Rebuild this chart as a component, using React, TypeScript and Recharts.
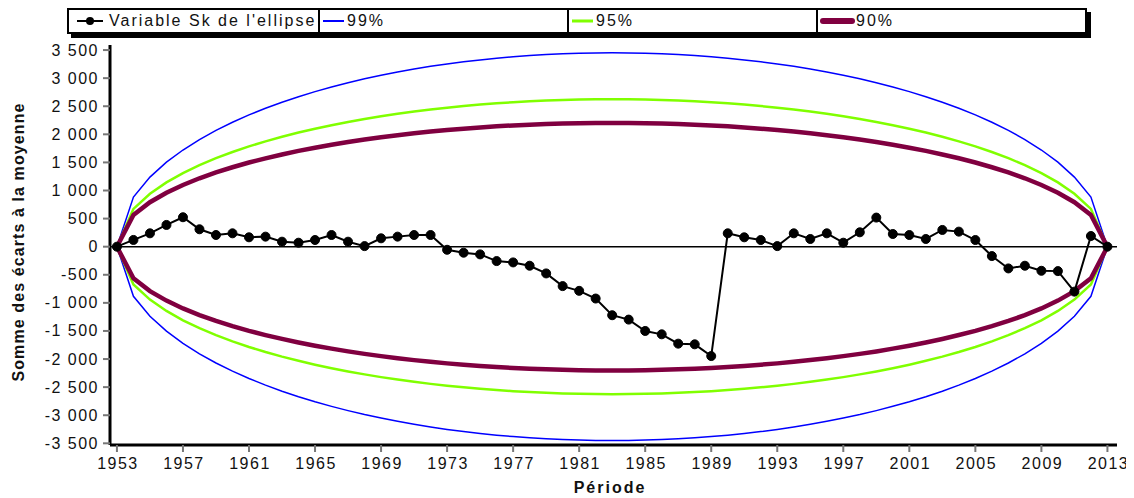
import React from "react";
import {
  LineChart,
  Line,
  XAxis,
  YAxis,
  ReferenceLine,
} from "recharts";

const years = [
  1953, 1954, 1955, 1956, 1957, 1958, 1959, 1960, 1961, 1962, 1963, 1964, 1965,
  1966, 1967, 1968, 1969, 1970, 1971, 1972, 1973, 1974, 1975, 1976, 1977, 1978,
  1979, 1980, 1981, 1982, 1983, 1984, 1985, 1986, 1987, 1988, 1989, 1990, 1991,
  1992, 1993, 1994, 1995, 1996, 1997, 1998, 1999, 2000, 2001, 2002, 2003, 2004,
  2005, 2006, 2007, 2008, 2009, 2010, 2011, 2012, 2013,
];

// Variable Sk de l'ellipse
const sk = [
  0, 120, 238, 387, 524, 310, 208, 238, 167, 179, 89, 71, 119, 208, 89, 10, 149,
  179, 208, 208, -55, -107, -137, -256, -280, -339, -476, -702, -786, -923,
  -1220, -1298, -1500, -1560, -1726, -1738, -1947, 238, 167, 119, 10, 238, 137,
  238, 71, 256, 518, 226, 208, 137, 298, 268, 119, -167, -387, -339, -429, -435,
  -800, 190, 0,
];

const up99 = [
  0, 883, 1239, 1504, 1721, 1907, 2070, 2215, 2346, 2464, 2572, 2670, 2760, 2842,
  2918, 2988, 3051, 3109, 3162, 3210, 3253, 3291, 3325, 3355, 3380, 3402, 3419,
  3433, 3442, 3448, 3450, 3448, 3442, 3433, 3419, 3402, 3380, 3355, 3325, 3291,
  3253, 3210, 3162, 3109, 3051, 2988, 2918, 2842, 2760, 2670, 2572, 2464, 2346,
  2215, 2070, 1907, 1721, 1504, 1239, 883, 0,
];
const low99 = [
  0, -883, -1239, -1504, -1721, -1907, -2070, -2215, -2346, -2464, -2572, -2670,
  -2760, -2842, -2918, -2988, -3051, -3109, -3162, -3210, -3253, -3291, -3325,
  -3355, -3380, -3402, -3419, -3433, -3442, -3448, -3450, -3448, -3442, -3433,
  -3419, -3402, -3380, -3355, -3325, -3291, -3253, -3210, -3162, -3109, -3051,
  -2988, -2918, -2842, -2760, -2670, -2572, -2464, -2346, -2215, -2070, -1907,
  -1721, -1504, -1239, -883, 0,
];

const up95 = [
  0, 672, 942, 1144, 1310, 1451, 1575, 1685, 1785, 1875, 1957, 2031, 2100, 2163,
  2220, 2273, 2322, 2366, 2406, 2442, 2475, 2504, 2530, 2553, 2572, 2588, 2602,
  2612, 2619, 2623, 2625, 2623, 2619, 2612, 2602, 2588, 2572, 2553, 2530, 2504,
  2475, 2442, 2406, 2366, 2322, 2273, 2220, 2163, 2100, 2031, 1957, 1875, 1785,
  1685, 1575, 1451, 1310, 1144, 942, 672, 0,
];
const low95 = [
  0, -672, -942, -1144, -1310, -1451, -1575, -1685, -1785, -1875, -1957, -2031,
  -2100, -2163, -2220, -2273, -2322, -2366, -2406, -2442, -2475, -2504, -2530,
  -2553, -2572, -2588, -2602, -2612, -2619, -2623, -2625, -2623, -2619, -2612,
  -2602, -2588, -2572, -2553, -2530, -2504, -2475, -2442, -2406, -2366, -2322,
  -2273, -2220, -2163, -2100, -2031, -1957, -1875, -1785, -1685, -1575, -1451,
  -1310, -1144, -942, -672, 0,
];

const up90 = [
  0, 564, 791, 960, 1099, 1218, 1322, 1414, 1498, 1573, 1642, 1705, 1762, 1815,
  1864, 1908, 1948, 1985, 2019, 2050, 2077, 2101, 2123, 2142, 2159, 2172, 2183,
  2192, 2198, 2202, 2203, 2202, 2198, 2192, 2183, 2172, 2159, 2142, 2123, 2101,
  2077, 2050, 2019, 1985, 1948, 1908, 1864, 1815, 1762, 1705, 1642, 1573, 1498,
  1414, 1322, 1218, 1099, 960, 791, 564, 0,
];
const low90 = [
  0, -564, -791, -960, -1099, -1218, -1322, -1414, -1498, -1573, -1642, -1705,
  -1762, -1815, -1864, -1908, -1948, -1985, -2019, -2050, -2077, -2101, -2123,
  -2142, -2159, -2172, -2183, -2192, -2198, -2202, -2203, -2202, -2198, -2192,
  -2183, -2172, -2159, -2142, -2123, -2101, -2077, -2050, -2019, -1985, -1948,
  -1908, -1864, -1815, -1762, -1705, -1642, -1573, -1498, -1414, -1322, -1218,
  -1099, -960, -791, -564, 0,
];

const xTicks = [1953, 1957, 1961, 1965, 1969, 1973, 1977, 1981, 1985, 1989, 1993, 1997, 2001, 2005, 2009, 2013];
const yTicks = [-3500, -3000, -2500, -2000, -1500, -1000, -500, 0, 500, 1000, 1500, 2000, 2500, 3000, 3500];

const data = years.map((year, i) => ({
  year,
  sk: sk[i],
  up99: up99[i],
  low99: low99[i],
  up95: up95[i],
  low95: low95[i],
  up90: up90[i],
  low90: low90[i],
}));

const FONT = "'Liberation Sans', Arial, sans-serif";

const fmt = (v: number) => {
  const a = Math.abs(v);
  const s = a >= 1000 ? `${Math.floor(a / 1000)} ${String(a % 1000).padStart(3, "0")}` : `${a}`;
  return v < 0 ? `-${s}` : s;
};

const XTick = ({ x, y, payload }: any) => (
  <text x={x + 1} y={y + 15} textAnchor="middle" fontSize={16} fill="#111" letterSpacing={1.5} fontFamily={FONT}>
    {payload.value}
  </text>
);

const YTick = ({ x, y, payload }: any) => (
  <text x={x} y={y + 5.5} textAnchor="end" fontSize={16} fill="#111" letterSpacing={1.5} fontFamily={FONT}>
    {fmt(payload.value)}
  </text>
);

const cell = (w: number, last = false): React.CSSProperties => ({
  width: w,
  height: "100%",
  display: "flex",
  alignItems: "center",
  borderRight: last ? "none" : "2px solid #000",
  boxSizing: "border-box",
});

const legendText: React.CSSProperties = { fontSize: 16, letterSpacing: 2, color: "#111", whiteSpace: "nowrap" };

const LegendBox = () => (
  <div
    style={{
      position: "absolute",
      left: 59,
      top: 0,
      width: 1020,
      height: 26,
      border: "2px solid #000",
      boxShadow: "4px 4px 0 #000",
      background: "#fff",
      boxSizing: "border-box",
      display: "flex",
      fontFamily: FONT,
      overflow: "hidden",
    }}
  >
    <div style={cell(251)}>
      <svg width={30} height={12} style={{ marginLeft: 8, marginRight: 2 }}>
        <line x1={0} y1={6} x2={26} y2={6} stroke="#000" strokeWidth={2} />
        <circle cx={13} cy={6} r={4} fill="#000" />
      </svg>
      <span style={legendText}>Variable Sk de l'ellipse</span>
    </div>
    <div style={cell(249)}>
      <svg width={24} height={12} style={{ marginLeft: 3 }}>
        <line x1={0} y1={6} x2={21} y2={6} stroke="#0000ff" strokeWidth={2} />
      </svg>
      <span style={legendText}>99%</span>
    </div>
    <div style={cell(249)}>
      <svg width={24} height={12} style={{ marginLeft: 3 }}>
        <line x1={0} y1={6} x2={21} y2={6} stroke="#80ff00" strokeWidth={3} />
      </svg>
      <span style={legendText}>95%</span>
    </div>
    <div style={cell(267, true)}>
      <svg width={36} height={12} style={{ marginLeft: 2 }}>
        <line x1={3} y1={6} x2={32} y2={6} stroke="#800040" strokeWidth={6} strokeLinecap="round" />
      </svg>
      <span style={legendText}>90%</span>
    </div>
  </div>
);

export default function App() {
  return (
    <div style={{ position: "relative", width: 1126, height: 490, fontFamily: FONT }}>
      <LineChart
        width={1126}
        height={490}
        data={data}
        margin={{ top: 37, right: 17, bottom: 0, left: 0 }}
        style={{ fontFamily: FONT }}
      >
        <XAxis
          dataKey="year"
          type="number"
          domain={[1952.58, 2013.58]}
          allowDataOverflow
          ticks={xTicks}
          interval={0}
          height={53}
          tickSize={7}
          axisLine={{ stroke: "#000", strokeWidth: 3 }}
          tickLine={{ stroke: "#777", strokeWidth: 2 }}
          tick={<XTick />}
          label={() => (
            <text x={602} y={485} textAnchor="middle" fontSize={16} fontWeight="bold" letterSpacing={2} fill="#111" fontFamily={FONT}>
              Période
            </text>
          )}
        />
        <YAxis
          type="number"
          domain={[-3530, 3590]}
          allowDataOverflow
          ticks={yTicks}
          interval={0}
          width={102}
          tickSize={7}
          tickMargin={4}
          axisLine={{ stroke: "#000", strokeWidth: 3 }}
          tickLine={{ stroke: "#777", strokeWidth: 2 }}
          tick={<YTick />}
          label={() => (
            <text
              transform="rotate(-90)"
              x={-234}
              y={15.7}
              textAnchor="middle"
              fontSize={16}
              fontWeight="bold"
              letterSpacing={1.1}
              fill="#111"
              fontFamily={FONT}
            >
              Somme des écarts à la moyenne
            </text>
          )}
        />
        <ReferenceLine y={0} stroke="#000" strokeWidth={1.5} />
        <Line type="linear" dataKey="up99" stroke="#0000ff" strokeWidth={1.5} dot={false} activeDot={false} isAnimationActive={false} />
        <Line type="linear" dataKey="low99" stroke="#0000ff" strokeWidth={1.5} dot={false} activeDot={false} isAnimationActive={false} />
        <Line type="linear" dataKey="up95" stroke="#80ff00" strokeWidth={2.5} dot={false} activeDot={false} isAnimationActive={false} />
        <Line type="linear" dataKey="low95" stroke="#80ff00" strokeWidth={2.5} dot={false} activeDot={false} isAnimationActive={false} />
        <Line type="linear" dataKey="up90" stroke="#800040" strokeWidth={4.5} dot={false} activeDot={false} isAnimationActive={false} />
        <Line type="linear" dataKey="low90" stroke="#800040" strokeWidth={4.5} dot={false} activeDot={false} isAnimationActive={false} />
        <Line
          type="linear"
          dataKey="sk"
          stroke="#000"
          strokeWidth={2}
          dot={{ r: 4.5, fill: "#000", stroke: "#000", strokeWidth: 1 }}
          activeDot={false}
          isAnimationActive={false}
        />
      </LineChart>
      <LegendBox />
    </div>
  );
}
